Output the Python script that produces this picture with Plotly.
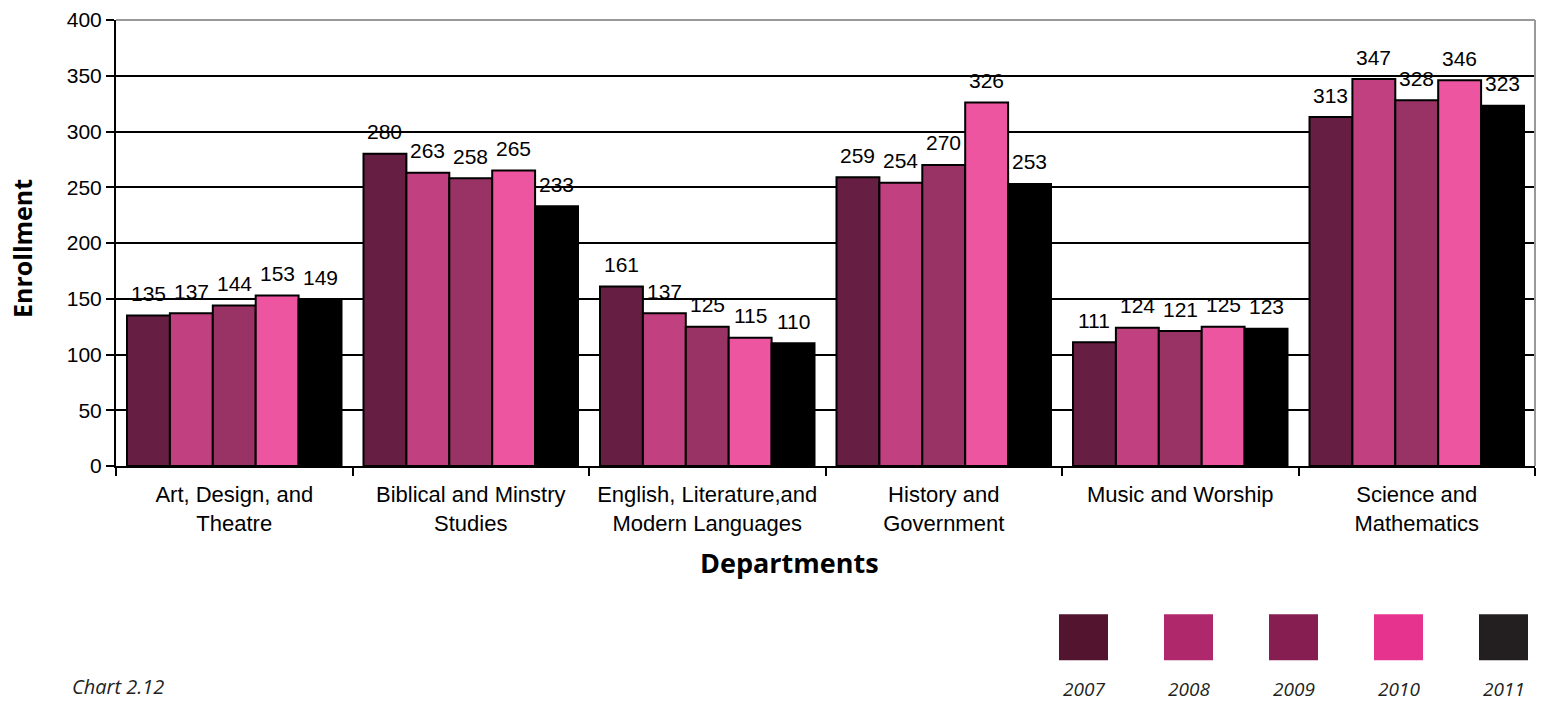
import plotly.graph_objects as go

departments = [
    "Art, Design, and<br>Theatre",
    "Biblical and Minstry<br>Studies",
    "English, Literature,and<br>Modern Languages",
    "History and<br>Government",
    "Music and Worship",
    "Science and<br>Mathematics",
]
years = ["2007", "2008", "2009", "2010", "2011"]
enroll_2007 = [135, 280, 161, 259, 111, 313]
enroll_2008 = [137, 263, 137, 254, 124, 347]
enroll_2009 = [144, 258, 125, 270, 121, 328]
enroll_2010 = [153, 265, 115, 326, 125, 346]
enroll_2011 = [149, 233, 110, 253, 123, 323]
y_ticks = [0, 50, 100, 150, 200, 250, 300, 350, 400]

series = [enroll_2007, enroll_2008, enroll_2009, enroll_2010, enroll_2011]
bar_colors = ["#661e42", "#c04080", "#993366", "#ee55a0", "#000000"]
key_colors = ["#52142f", "#b0286c", "#871e52", "#e6338d", "#231f20"]

W, H = 1543, 704
L, R, T, B = 116, 8, 18, 238
pw, ph = W - L - R, H - T - B
GAP = 0.093
bar_px = pw / len(departments) * (1 - GAP) / len(years)


def px_x(x):
    return (x - L) / pw


def px_y(y):
    return (H - B - y) / ph


def note(text, x, y, size, family="Open Sans", color="#000", angle=0, xanchor="center"):
    return dict(text=text, xref="paper", yref="paper", x=px_x(x), y=px_y(y),
                xanchor=xanchor, yanchor="middle", showarrow=False, textangle=angle,
                font=dict(family=family, size=size, color=color))


fig = go.Figure()
annotations = []
for i, (yr, vals, col) in enumerate(zip(years, series, bar_colors)):
    fig.add_trace(go.Bar(
        x=departments, y=vals, name=yr,
        marker=dict(color=col, line=dict(color="#000000", width=2)),
        hoverinfo="x+y+name",
    ))
    # value labels sit a little above each bar
    for dep, v in zip(departments, vals):
        annotations.append(dict(
            x=dep, y=v, xref="x", yref="y", text=str(v), showarrow=False,
            xanchor="center", yanchor="middle",
            xshift=(i - 2) * bar_px, yshift=22,
            font=dict(family="Liberation Sans, Arial", size=21, color="#000"),
        ))

shapes = [
    dict(type="line", xref="paper", yref="paper", x0=0, x1=1, y0=1, y1=1,
         line=dict(color="#999999", width=2), layer="above"),
    dict(type="line", xref="paper", yref="paper", x0=1, x1=1, y0=0, y1=1,
         line=dict(color="#999999", width=2), layer="above"),
]
annotations += [
    note("<b>Departments</b>", 789, 563, 27),
    note("<b>Enrollment</b>", 22, 247, 25, angle=-90),
    note("<i>Chart 2.12</i>", 70, 687, 20, color="#222", xanchor="left"),
]
key_x = [1059, 1164, 1269, 1374, 1479]
for kx, col, yr in zip(key_x, key_colors, years):
    shapes.append(dict(type="rect", xref="paper", yref="paper",
                       x0=px_x(kx), x1=px_x(kx + 49), y0=px_y(661), y1=px_y(615),
                       fillcolor=col, line=dict(width=0)))
    annotations.append(note("<i>" + yr + "</i>", kx + 24.5, 690, 19, color="#231f20"))

fig.update_layout(
    width=W, height=H,
    margin=dict(l=L, r=R, t=T, b=B),
    plot_bgcolor="white", paper_bgcolor="white",
    barmode="group", bargap=GAP, bargroupgap=0,
    showlegend=False,
    font=dict(family="Liberation Sans, Arial", size=21, color="#000"),
    shapes=shapes, annotations=annotations,
)
fig.update_xaxes(
    showline=True, linecolor="#000", linewidth=2,
    ticks="outside", tickson="boundaries", ticklen=8, tickwidth=1.5, tickcolor="#000",
    tickfont=dict(size=22), showgrid=False, ticklabelstandoff=8,
)
fig.update_yaxes(
    range=[0, 400], tickvals=y_ticks,
    showline=True, linecolor="#000", linewidth=2,
    ticks="outside", ticklen=8, tickwidth=1.5, tickcolor="#000",
    showgrid=True, gridcolor="#000", gridwidth=1.5,
    tickfont=dict(size=21), zeroline=False,
)

fig.write_html("out.html", config={"displayModeBar": False},
               post_script="document.body.style.margin='0';")
